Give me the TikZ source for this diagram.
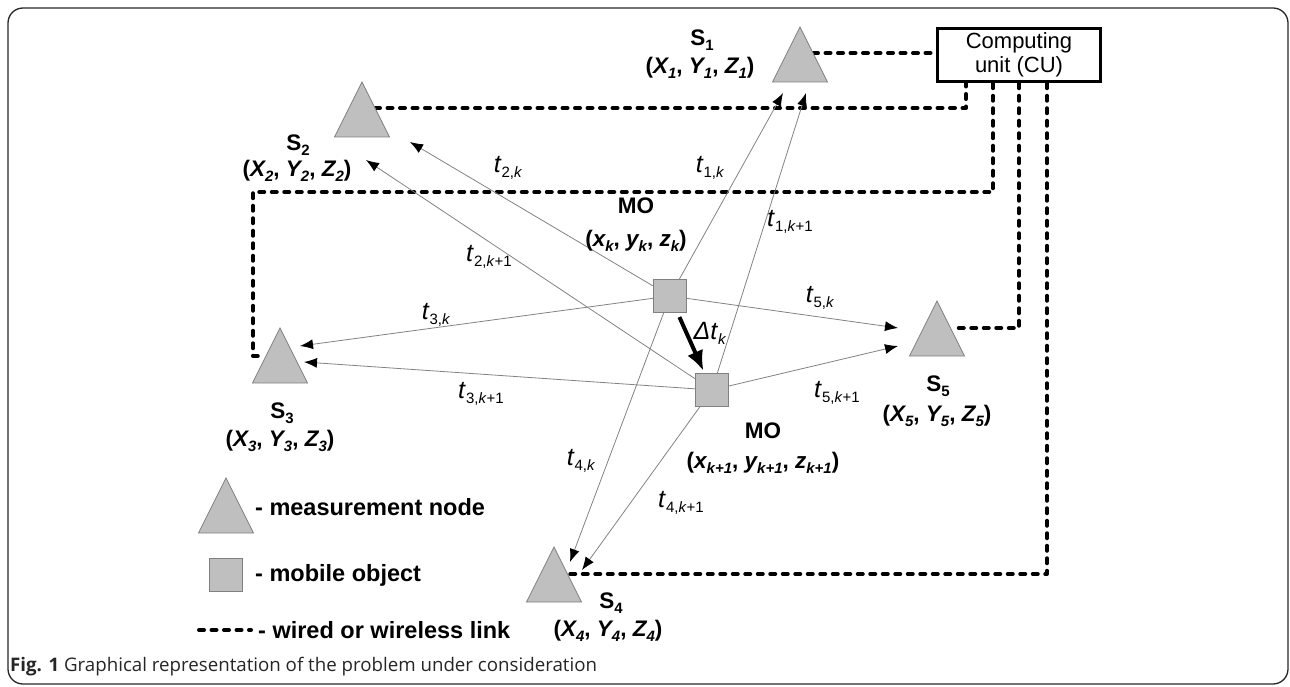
\documentclass[tikz,border=0pt]{standalone}
\usepackage{fontspec}
\setmainfont{Liberation Sans}
\newfontfamily\capfont{Open Sans}
\usetikzlibrary{arrows.meta,shapes.geometric,backgrounds}
\newcommand\dn[1]{\raisebox{-5pt}{\fontsize{15}{15}\selectfont #1}}
\newcommand\tlab[1]{\textit{t}\dn{#1}}
\definecolor{nodegray}{RGB}{191,191,191}
\definecolor{edgegray}{RGB}{128,128,128}
\definecolor{linegray}{RGB}{130,130,130}
\begin{document}
\begin{tikzpicture}[x=1pt,y=-1pt,
  sensor/.style={isosceles triangle, isosceles triangle stretches, shape border rotate=90,
    minimum width=55pt, minimum height=55pt, inner sep=0pt, outer sep=0pt,
    draw=edgegray, fill=nodegray, line width=0.8pt, anchor=lower side},
  mobile/.style={rectangle, minimum size=33pt, inner sep=0pt, outer sep=0pt,
    draw=edgegray, fill=nodegray, line width=0.8pt},
  cubox/.style={rectangle, draw=black, line width=3.5pt, fill=white, minimum width=163pt,
    minimum height=53pt, inner sep=0pt, align=center, font=\fontsize{22}{24}\selectfont},
  link/.style={line width=4pt, dash pattern=on 5pt off 7.5pt, line cap=round, line join=round},
  sig/.style={draw=linegray, line width=0.8pt, -{Latex[length=13pt,width=10pt,color=black]}},
  lab/.style={inner sep=0pt, font=\fontsize{22.5}{26}\selectfont\bfseries},
  tl/.style={inner sep=0pt, font=\fontsize{25}{28}\selectfont},
  leg/.style={inner sep=0pt, anchor=west, font=\fontsize{23.5}{26}\selectfont\bfseries}
]
\useasboundingbox (0,0) rectangle (1290,687);
\draw[line width=1.3pt, rounded corners=15pt, black!85] (8,8) rectangle (1288,684);

% sensors
\node[sensor] (s1) at (800,82) {};
\node[sensor] (s2) at (362,137) {};
\node[sensor] (s3) at (280,383) {};
\node[sensor] (s4) at (554,602) {};
\node[sensor] (s5) at (937,356) {};
% mobile object
\node[mobile] (mok) at (670,296) {};
\node[mobile] (mok1) at (712,390) {};
% computing unit
\node[cubox] (cu) at (1019,55) {Computing\\unit (CU)};

% link coordinates
\coordinate (s1link) at (813,53);
\coordinate (s2link) at (375,108);
\coordinate (s3bend) at (253,192);
\coordinate (s3link) at (265,356);
\coordinate (s4link) at (568,574);
\coordinate (s5link) at (958,328);

\begin{scope}[on background layer]
\draw[link] (s1link) -- (cu.west |- s1link);
\draw[link] (s2link) -| ([xshift=-53pt]cu.south);
\draw[link] ([xshift=-26pt]cu.south) |- (s3bend) |- (s3link);
\draw[link] (cu.south) |- (s5link);
\draw[link] ([xshift=28pt]cu.south) |- (s4link);
\end{scope}

% signal end points
\coordinate (s2a) at (410,142);
\coordinate (s2b) at (366,160);
\coordinate (s1a) at (783,93);
\coordinate (s1b) at (806,93);
\coordinate (s3a) at (300,346);
\coordinate (s3b) at (304,362);
\coordinate (s5a) at (898,328);
\coordinate (s5b) at (898,346);
\coordinate (s4a) at (570,562);
\coordinate (s4b) at (582,570);

\draw[sig] (mok) -- (s2a);
\draw[sig] (mok1) -- (s2b);
\draw[sig] (mok) -- (s1a);
\draw[sig] (mok1) -- (s1b);
\draw[sig] (mok) -- (s3a);
\draw[sig] (mok1) -- (s3b);
\draw[sig] (mok) -- (s5a);
\draw[sig] (mok1) -- (s5b);
\draw[sig] (mok) -- (s4a);
\draw[sig] (mok1) -- (s4b);
\draw[line width=4pt, shorten <=5pt, shorten >=3pt, -{Latex[length=20pt,width=17pt]}] (mok) -- (mok1);

% sensor labels
\node[lab] (s1name) at (702,40) {S\dn{1}};
\node[lab] (s1pos) at (700,68) {(\textit{X\dn{1}}, \textit{Y\dn{1}}, \textit{Z\dn{1}})};
\node[lab] (s2name) at (298,145) {S\dn{2}};
\node[lab] (s2pos) at (297,171) {(\textit{X\dn{2}}, \textit{Y\dn{2}}, \textit{Z\dn{2}})};
\node[lab] (s3name) at (282,413) {S\dn{3}};
\node[lab] (s3pos) at (280,441) {(\textit{X\dn{3}}, \textit{Y\dn{3}}, \textit{Z\dn{3}})};
\node[lab] (s5name) at (938,386) {S\dn{5}};
\node[lab] (s5pos) at (937,416) {(\textit{X\dn{5}}, \textit{Y\dn{5}}, \textit{Z\dn{5}})};
\node[lab] (s4name) at (611,603) {S\dn{4}};
\node[lab] (s4pos) at (608,631) {(\textit{X\dn{4}}, \textit{Y\dn{4}}, \textit{Z\dn{4}})};
\node[lab] (moname) at (636,206) {MO};
\node[lab] (mopos) at (636,241) {(\textit{x\dn{k}}, \textit{y\dn{k}}, \textit{z\dn{k}})};
\node[lab] (mo1name) at (763,431) {MO};
\node[lab] (mo1pos) at (763,463) {(\textit{x\dn{k+1}}, \textit{y\dn{k+1}}, \textit{z\dn{k+1}})};

% time labels
\node[tl] (t2k) at (508,168) {\tlab{2,\textit{k}}};
\node[tl] (t1k) at (710,168) {\tlab{1,\textit{k}}};
\node[tl] (t1k1) at (790,222) {\tlab{1,\textit{k}+1}};
\node[tl] (t2k1) at (489,257) {\tlab{2,\textit{k}+1}};
\node[tl] (t3k) at (436,315) {\tlab{3,\textit{k}}};
\node[tl] (t5k) at (820,298) {\tlab{5,\textit{k}}};
\node[tl] (t3k1) at (481,394) {\tlab{3,\textit{k}+1}};
\node[tl] (t5k1) at (837,393) {\tlab{5,\textit{k}+1}};
\node[tl] (t4k) at (581,461) {\tlab{4,\textit{k}}};
\node[tl] (t4k1) at (681,503) {\tlab{4,\textit{k}+1}};
\node[tl] (dtk) at (710,333) {\textit{Δt}\dn{\textit{k}}};

% legend
\node[sensor] (legs) at (226,533) {};
\node[mobile] (legm) at (226,575) {};
\coordinate (legl1) at (199,630);
\coordinate (legl2) at (251,630);
\draw[link] (legl1) -- (legl2);
\node[leg] (legst) at (255,507) {- measurement node};
\node[leg] (legmt) at (255,575) {- mobile object};
\node[leg] (leglt) at (258,630) {- wired or wireless link};

% caption
\node[anchor=base west, inner sep=0pt, text=black!85, font=\capfont\fontsize{18.7}{21}\selectfont] (cap) at (10,671) {\textbf{Fig. 1} Graphical representation of the problem under consideration};
\end{tikzpicture}
\end{document}
